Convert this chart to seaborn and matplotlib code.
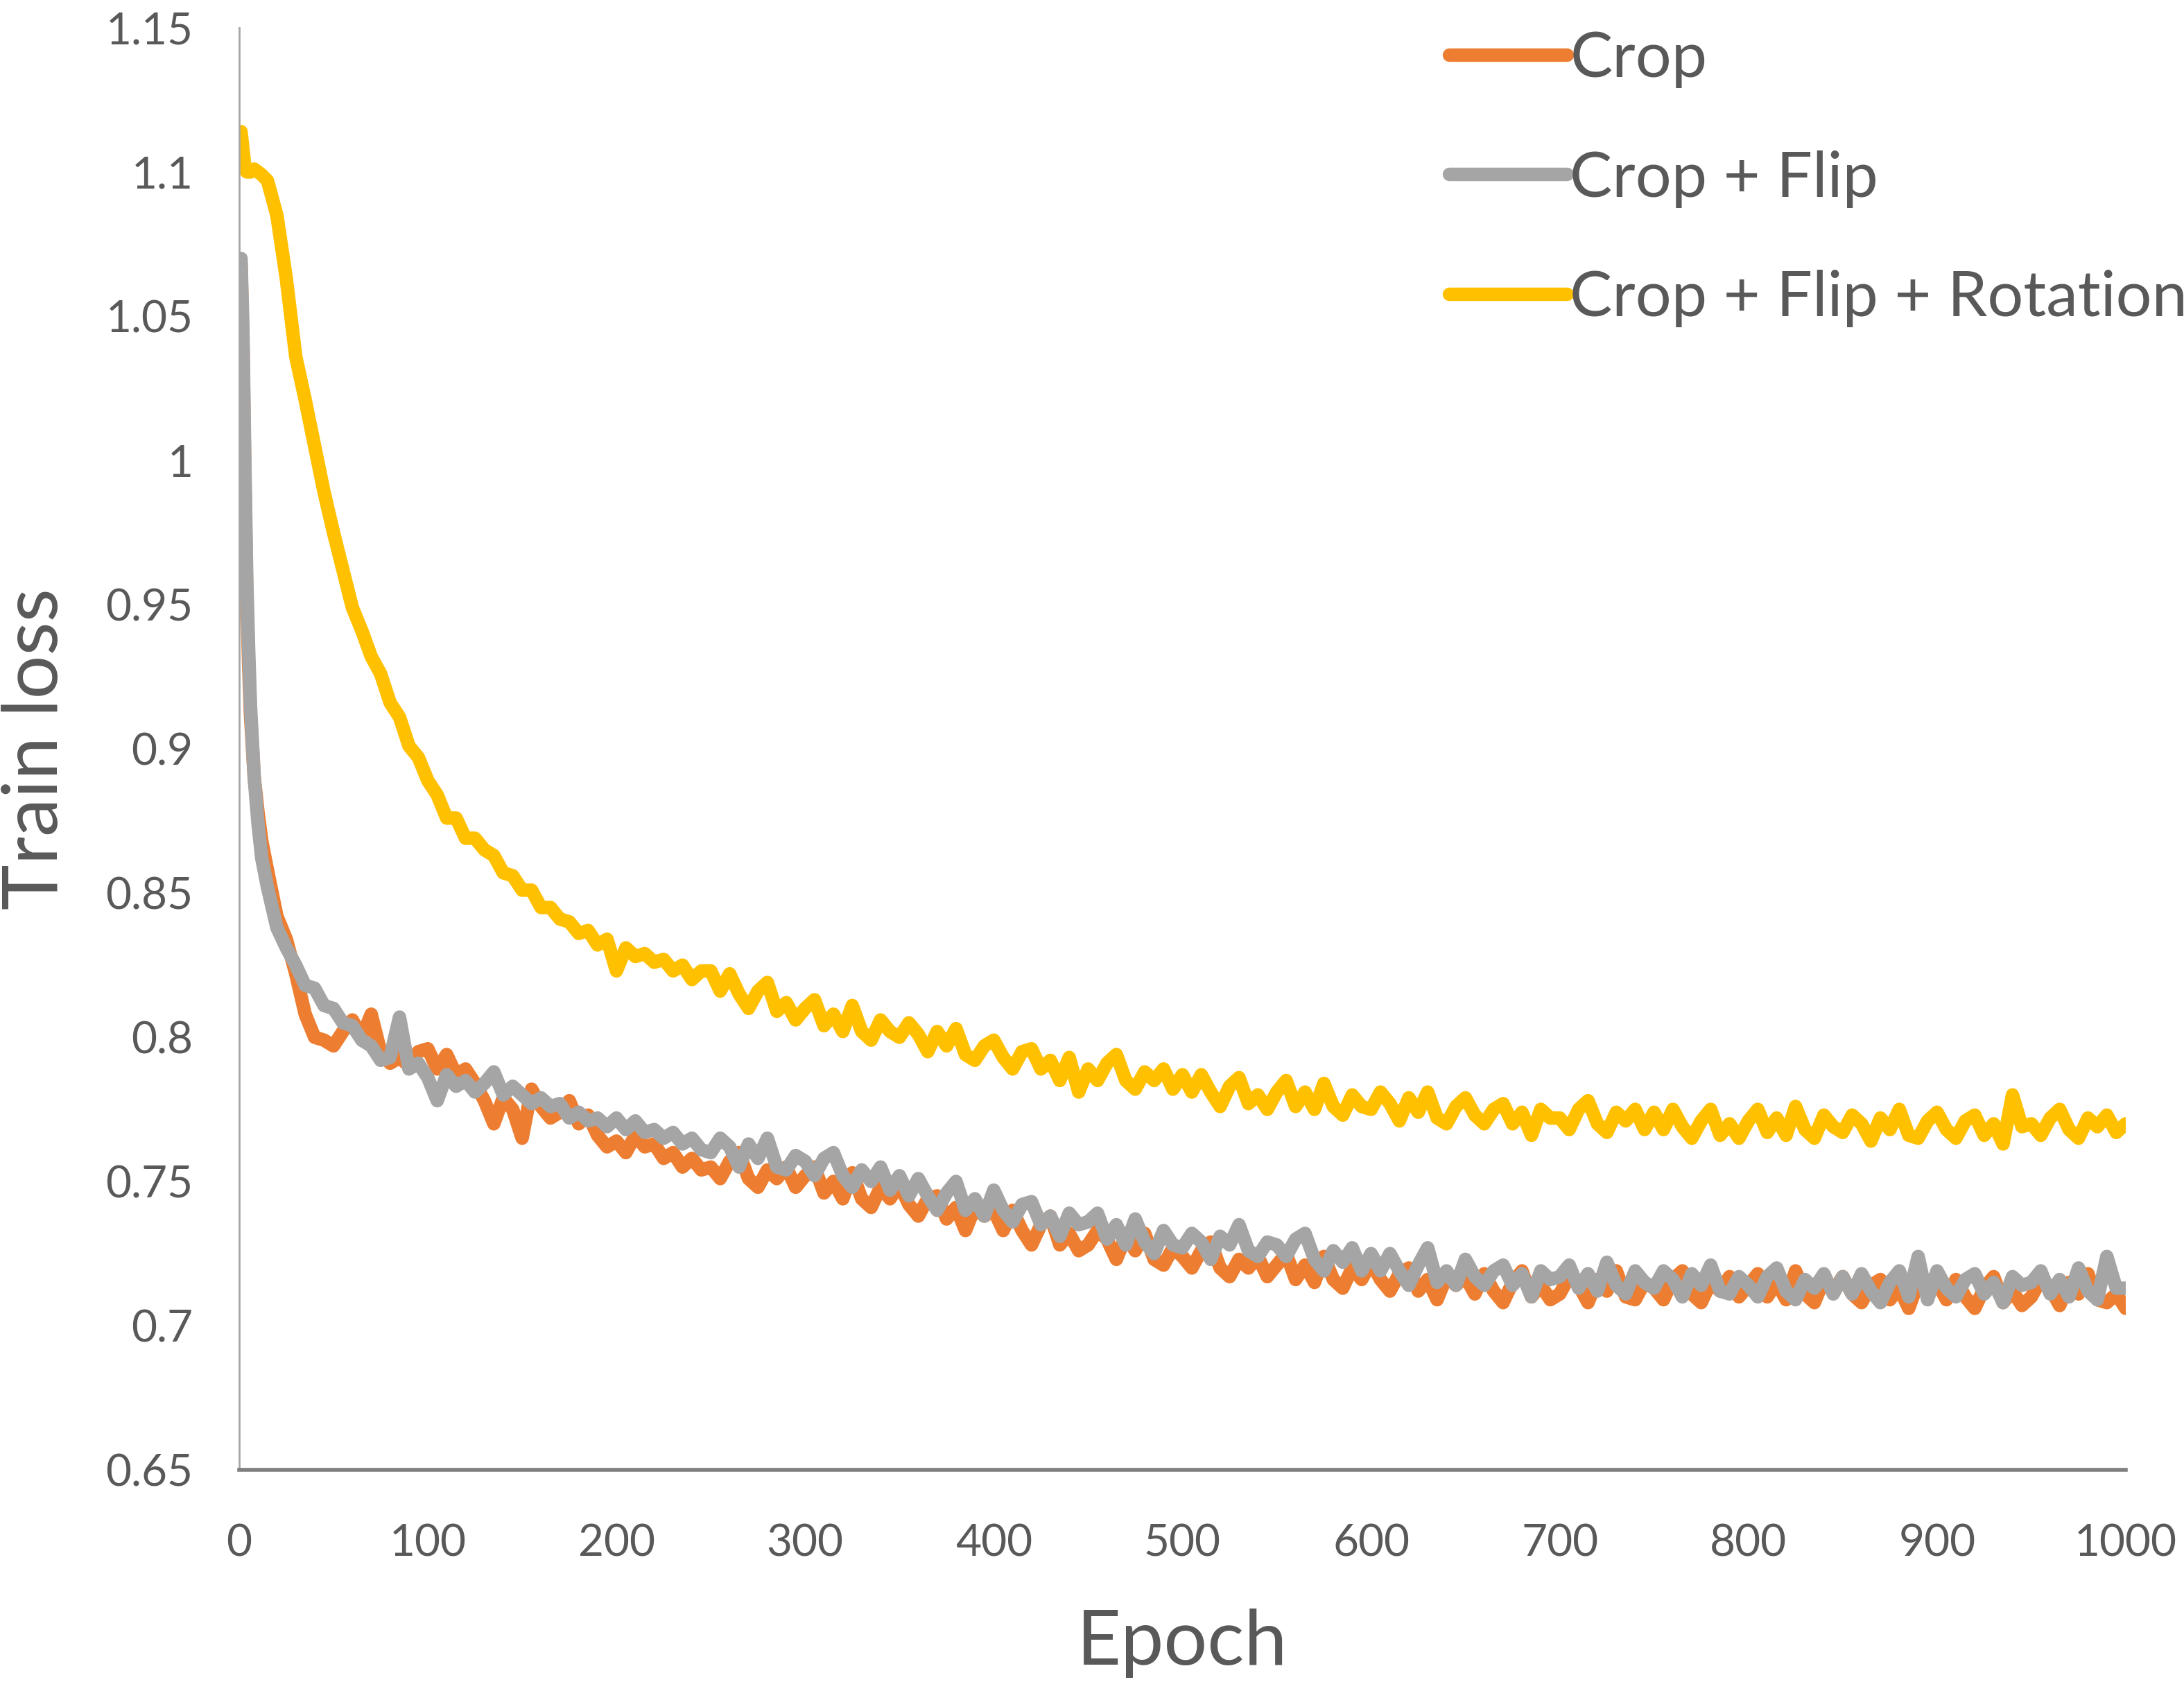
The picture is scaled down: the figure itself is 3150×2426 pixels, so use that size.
import pandas as pd
import matplotlib.pyplot as plt
import seaborn as sns

# Daten
epochs = [1, 2, 3, 4, 5, 6, 8, 10, 12, 15] + list(range(20, 1001, 5))

crop = [
    1.068, 1.040, 0.995, 0.955, 0.930, 0.912, 0.890, 0.878, 0.868, 0.858,
    # 20 - 245
    0.842, 0.834, 0.822, 0.808, 0.800, 0.799, 0.797, 0.802, 0.806, 0.800,
    0.808, 0.795, 0.791, 0.793, 0.790, 0.795, 0.796, 0.789, 0.794, 0.787,
    0.789, 0.784, 0.778, 0.770, 0.779, 0.775, 0.765, 0.782, 0.776, 0.772,
    0.774, 0.778, 0.770, 0.773, 0.766, 0.762, 0.764, 0.760, 0.766, 0.762,
    0.763, 0.758, 0.760, 0.755, 0.758, 0.754,
    # 250 - 1000
    0.755, 0.751, 0.757, 0.760, 0.751, 0.748, 0.754, 0.751, 0.755, 0.748,
    0.752, 0.755, 0.746, 0.750, 0.744, 0.753, 0.744, 0.741, 0.748, 0.744,
    0.749, 0.742, 0.738, 0.744, 0.745, 0.737, 0.741, 0.733, 0.741, 0.738,
    0.740, 0.733, 0.740, 0.733, 0.728, 0.735, 0.738, 0.728, 0.732, 0.726,
    0.728, 0.733, 0.730, 0.723, 0.731, 0.726, 0.732, 0.723, 0.721, 0.727,
    0.724, 0.720, 0.726, 0.729, 0.720, 0.717, 0.723, 0.720, 0.724, 0.717,
    0.721, 0.725, 0.716, 0.721, 0.715, 0.724, 0.716, 0.713, 0.720, 0.716,
    0.722, 0.716, 0.712, 0.718, 0.720, 0.712, 0.716, 0.709, 0.717, 0.714,
    0.717, 0.711, 0.718, 0.712, 0.708, 0.715, 0.719, 0.710, 0.714, 0.709,
    0.711, 0.717, 0.714, 0.708, 0.716, 0.712, 0.719, 0.710, 0.709, 0.715,
    0.713, 0.709, 0.716, 0.719, 0.711, 0.708, 0.715, 0.712, 0.717, 0.710,
    0.714, 0.718, 0.710, 0.715, 0.709, 0.719, 0.711, 0.708, 0.716, 0.712,
    0.717, 0.711, 0.708, 0.714, 0.716, 0.709, 0.713, 0.706, 0.715, 0.712,
    0.715, 0.709, 0.716, 0.710, 0.706, 0.713, 0.717, 0.708, 0.712, 0.707,
    0.710, 0.716, 0.713, 0.707, 0.715, 0.711, 0.718, 0.709, 0.708, 0.711,
    0.706,
]

crop_flip = [
    1.070, 1.045, 1.000, 0.960, 0.935, 0.915, 0.890, 0.874, 0.862, 0.852,
    # 20 - 245
    0.838, 0.831, 0.825, 0.818, 0.817, 0.811, 0.810, 0.805, 0.804, 0.799,
    0.797, 0.792, 0.793, 0.807, 0.789, 0.791, 0.786, 0.778, 0.787, 0.783,
    0.785, 0.781, 0.784, 0.788, 0.780, 0.783, 0.780, 0.777, 0.779, 0.776,
    0.777, 0.772, 0.774, 0.771, 0.772, 0.769, 0.772, 0.768, 0.771, 0.767,
    0.768, 0.765, 0.767, 0.763, 0.765, 0.761,
    # 250 - 1000
    0.760, 0.765, 0.762, 0.755, 0.763, 0.758, 0.765, 0.755, 0.754, 0.759,
    0.757, 0.752, 0.758, 0.760, 0.752, 0.748, 0.754, 0.750, 0.755, 0.747,
    0.752, 0.745, 0.751, 0.745, 0.740, 0.746, 0.750, 0.740, 0.744, 0.738,
    0.747, 0.740, 0.736, 0.742, 0.743, 0.735, 0.738, 0.731, 0.739, 0.735,
    0.736, 0.739, 0.730, 0.735, 0.728, 0.737, 0.729, 0.725, 0.733, 0.728,
    0.727, 0.732, 0.729, 0.723, 0.731, 0.728, 0.735, 0.726, 0.724, 0.729,
    0.728, 0.724, 0.730, 0.732, 0.723, 0.719, 0.726, 0.722, 0.727, 0.719,
    0.725, 0.719, 0.725, 0.719, 0.714, 0.721, 0.727, 0.715, 0.719, 0.714,
    0.723, 0.717, 0.714, 0.719, 0.721, 0.714, 0.718, 0.710, 0.719, 0.716,
    0.717, 0.721, 0.713, 0.718, 0.712, 0.722, 0.714, 0.711, 0.719, 0.715,
    0.713, 0.719, 0.716, 0.710, 0.718, 0.714, 0.721, 0.712, 0.711, 0.717,
    0.714, 0.710, 0.717, 0.720, 0.712, 0.709, 0.716, 0.713, 0.718, 0.711,
    0.717, 0.711, 0.718, 0.712, 0.708, 0.715, 0.719, 0.710, 0.724, 0.709,
    0.719, 0.713, 0.710, 0.716, 0.718, 0.711, 0.715, 0.708, 0.717, 0.714,
    0.715, 0.719, 0.711, 0.716, 0.710, 0.720, 0.712, 0.709, 0.724, 0.713,
    0.713,
]

crop_flip_rot = [
    1.114, 1.108, 1.102, 1.100, 1.100, 1.100, 1.101, 1.100, 1.099, 1.097,
    # 20 - 245
    1.085, 1.063, 1.036, 1.021, 1.005, 0.989, 0.975, 0.962, 0.949, 0.941,
    0.932, 0.926, 0.916, 0.911, 0.901, 0.897, 0.889, 0.884, 0.876, 0.876,
    0.869, 0.869, 0.865, 0.863, 0.857, 0.856, 0.851, 0.851, 0.845, 0.845,
    0.841, 0.840, 0.836, 0.837, 0.832, 0.834, 0.823, 0.831, 0.828, 0.829,
    0.826, 0.827, 0.823, 0.825, 0.820, 0.823,
    # 250 - 1000
    0.823, 0.816, 0.822, 0.815, 0.810, 0.816, 0.819, 0.809, 0.812, 0.806,
    0.810, 0.813, 0.804, 0.808, 0.802, 0.811, 0.802, 0.799, 0.806, 0.802,
    0.800, 0.805, 0.801, 0.795, 0.802, 0.797, 0.803, 0.794, 0.792, 0.797,
    0.799, 0.793, 0.789, 0.795, 0.796, 0.789, 0.792, 0.785, 0.793, 0.781,
    0.789, 0.785, 0.791, 0.794, 0.785, 0.782, 0.788, 0.785, 0.789, 0.782,
    0.787, 0.781, 0.787, 0.781, 0.776, 0.783, 0.786, 0.777, 0.780, 0.775,
    0.781, 0.785, 0.776, 0.781, 0.775, 0.784, 0.776, 0.773, 0.780, 0.776,
    0.775, 0.781, 0.777, 0.771, 0.779, 0.774, 0.781, 0.772, 0.770, 0.776,
    0.779, 0.773, 0.770, 0.775, 0.777, 0.770, 0.774, 0.766, 0.775, 0.772,
    0.772, 0.768, 0.775, 0.778, 0.770, 0.767, 0.774, 0.771, 0.775, 0.768,
    0.774, 0.768, 0.775, 0.769, 0.765, 0.771, 0.775, 0.766, 0.770, 0.765,
    0.771, 0.775, 0.767, 0.772, 0.766, 0.776, 0.768, 0.765, 0.773, 0.769,
    0.767, 0.773, 0.770, 0.764, 0.772, 0.768, 0.775, 0.766, 0.765, 0.771,
    0.774, 0.768, 0.765, 0.771, 0.773, 0.766, 0.770, 0.763, 0.780, 0.769,
    0.770, 0.766, 0.772, 0.775, 0.768, 0.765, 0.772, 0.769, 0.773, 0.767,
    0.770,
]

series_names = ["Crop", "Crop + Flip", "Crop + Flip + Rotation"]
series_colors = ["#ED7D31", "#A5A5A5", "#FFC000"]

# Long-Format fuer seaborn
df = pd.concat([
    pd.DataFrame({"Epoch": epochs, "Train loss": vals, "Augmentation": name})
    for name, vals in zip(series_names, [crop, crop_flip, crop_flip_rot])
])

sns.set_style("white")
plt.rcParams["font.family"] = ["Lato", "DejaVu Sans"]
text_col = "#595959"

fig = plt.figure(figsize=(15.75, 12.13), dpi=200)
ax = fig.add_axes([0.1095, 0.1261, 0.8638, 0.8574])

sns.lineplot(data=df, x="Epoch", y="Train loss", hue="Augmentation",
             hue_order=series_names, palette=series_colors,
             linewidth=7, estimator=None, sort=False, ax=ax)
for line in ax.get_lines():
    line.set_solid_capstyle("round")
    line.set_solid_joinstyle("round")

ax.set_xlim(0, 1000)
ax.set_ylim(0.65, 1.15)

xt = list(range(0, 1001, 50))
ax.set_xticks(xt)
ax.set_xticklabels([str(t) if t % 100 == 0 else "" for t in xt])
yt = [0.65 + 0.05 * i for i in range(11)]
ax.set_yticks(yt)
ax.set_yticklabels([f"{t:g}" for t in [round(v, 2) for v in yt]])

ax.tick_params(axis="x", direction="in", length=8.5, width=1.1,
               color="#7f7f7f", labelsize=23, labelcolor=text_col, pad=28)
ax.tick_params(axis="y", direction="in", length=7, width=0.8,
               color="#a6a6a6", labelsize=23, labelcolor=text_col, pad=24)

for s in ["top", "right"]:
    ax.spines[s].set_visible(False)
ax.spines["left"].set_color("#a6a6a6")
ax.spines["left"].set_linewidth(1.0)
ax.spines["bottom"].set_color("#7f7f7f")
ax.spines["bottom"].set_linewidth(2.0)

ax.set_xlabel("Epoch", fontsize=40, color=text_col, labelpad=23)
ax.set_ylabel("Train loss", fontsize=40, color=text_col, labelpad=18)

ax.get_legend().remove()
handles = ax.get_lines()[:3]
leg = fig.legend(handles, series_names, loc="upper left",
                 bbox_to_anchor=(0.6635, 0.982), frameon=False,
                 fontsize=33, handlelength=1.85, handletextpad=0.05,
                 labelspacing=0.98, borderpad=0, borderaxespad=0)
for t in leg.get_texts():
    t.set_color(text_col)

fig.savefig("out.png", dpi=200)
